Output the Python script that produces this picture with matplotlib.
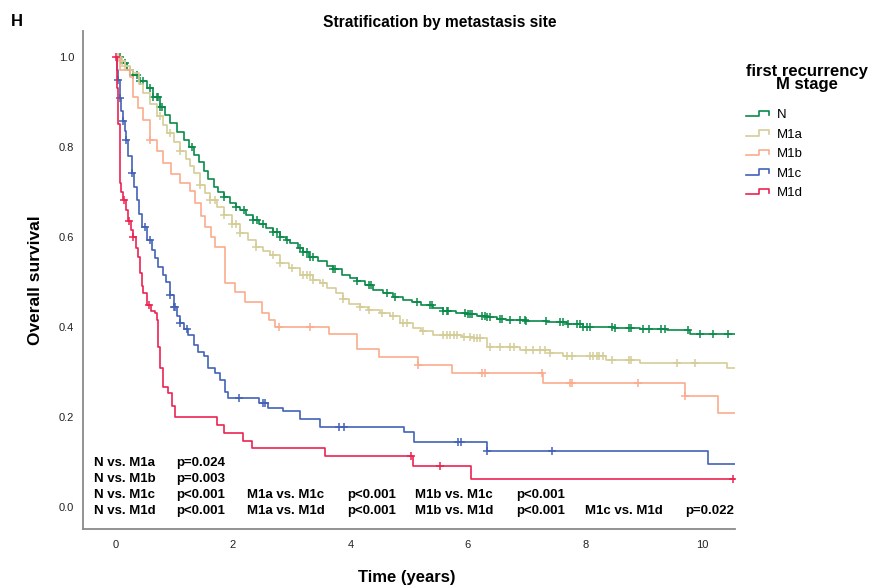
import numpy as np
import matplotlib
matplotlib.use("Agg")
import matplotlib.pyplot as plt
from matplotlib.lines import Line2D
from matplotlib.legend_handler import HandlerBase

plt.rcParams['font.family'] = ['Liberation Sans', 'DejaVu Sans']

# Kaplan-Meier step data (time in years, survival)
n_t = [0, 0.1, 0.2, 0.3, 0.4, 0.53, 0.64, 0.76, 0.85, 0.93, 1.05, 1.16, 1.25, 1.33, 1.42, 1.5,
       1.58, 1.67, 1.75, 1.84, 1.95, 2.05, 2.12, 2.22, 2.35, 2.45, 2.57, 2.69, 2.8, 2.9, 2.97,
       3.1, 3.2, 3.3, 3.45, 3.6, 3.71, 3.85, 4.0, 4.11, 4.25, 4.39, 4.55, 4.73, 4.9, 5.05, 5.2,
       5.4, 5.58, 5.8, 5.98, 6.15, 6.32, 6.5, 6.66, 7.0, 7.35, 7.69, 7.97, 8.5, 8.94, 9.39,
       9.79, 10.55]
n_s = [1.0, 0.985, 0.97, 0.96, 0.945, 0.93, 0.91, 0.889, 0.87, 0.852, 0.833, 0.815, 0.8,
       0.782, 0.765, 0.745, 0.728, 0.711, 0.7, 0.689, 0.675, 0.665, 0.66, 0.648, 0.637, 0.628,
       0.62, 0.611, 0.6, 0.592, 0.586, 0.575, 0.565, 0.556, 0.545, 0.535, 0.528, 0.516, 0.508,
       0.502, 0.492, 0.482, 0.474, 0.467, 0.46, 0.455, 0.449, 0.442, 0.434, 0.431, 0.428,
       0.425, 0.422, 0.418, 0.415, 0.412, 0.41, 0.407, 0.4, 0.398, 0.396, 0.392, 0.384, 0.384]
n_cens = [0.08, 0.16, 0.25, 0.30, 0.36, 0.42, 0.47, 0.59, 0.64, 0.70, 0.73, 0.76, 0.79, 1.3,
          1.84, 2.06, 2.18, 2.35, 2.41, 2.52, 2.69, 2.75, 2.8, 2.92, 3.14, 3.2, 3.26, 3.31,
          3.37, 3.71, 3.74, 4.11, 4.31, 4.36, 4.62, 4.76, 5.13, 5.36, 5.39, 5.58, 5.64, 5.67,
          5.95, 6.01, 6.04, 6.07, 6.24, 6.29, 6.32, 6.38, 6.55, 6.58, 6.72, 6.89, 6.98, 7.0,
          7.34, 7.57, 7.63, 7.71, 7.86, 7.91, 7.97, 8.03, 8.08, 8.45, 8.51, 8.74, 8.79, 8.99,
          9.08, 9.3, 9.36, 9.76, 9.96, 10.18, 10.44]

m1a_t = [0, 0.08, 0.16, 0.25, 0.3, 0.4, 0.47, 0.58, 0.7, 0.8, 0.87, 1.0, 1.1, 1.2, 1.27, 1.33,
         1.44, 1.52, 1.61, 1.72, 1.84, 1.98, 2.12, 2.25, 2.4, 2.52, 2.63, 2.8, 2.95, 3.14, 3.37,
         3.48, 3.6, 3.75, 3.88, 3.97, 4.17, 4.3, 4.51, 4.68, 4.85, 5.07, 5.2, 5.41, 5.9, 6.1,
         6.32, 6.89, 7.4, 7.63, 8.35, 8.94, 10.41, 10.55]
m1a_s = [1.0, 0.99, 0.98, 0.97, 0.963, 0.94, 0.919, 0.895, 0.867, 0.848, 0.83, 0.81, 0.79,
         0.772, 0.756, 0.741, 0.714, 0.698, 0.682, 0.665, 0.648, 0.628, 0.608, 0.593, 0.578,
         0.568, 0.56, 0.541, 0.53, 0.514, 0.504, 0.497, 0.486, 0.475, 0.462, 0.45, 0.443,
         0.437, 0.43, 0.423, 0.408, 0.397, 0.39, 0.382, 0.378, 0.375, 0.356, 0.349, 0.342,
         0.334, 0.327, 0.32, 0.308, 0.308]
m1a_cens = [0.11, 0.16, 0.25, 0.76, 0.93, 1.1, 1.44, 1.61, 1.7, 1.84, 1.98, 2.06, 2.12, 2.4,
            2.69, 2.8, 3.0, 3.2, 3.26, 3.31, 3.37, 3.54, 3.88, 4.17, 4.31, 4.54, 4.73, 4.9,
            4.96, 5.24, 5.58, 5.64, 5.7, 5.76, 5.81, 5.93, 6.04, 6.1, 6.15, 6.21, 6.38, 6.55,
            6.72, 6.78, 7.0, 7.12, 7.23, 7.32, 7.4, 7.69, 7.77, 8.08, 8.14, 8.2, 8.23, 8.31,
            8.45, 8.74, 8.79, 9.56, 9.87]

m1b_t = [0, 0.08, 0.25, 0.3, 0.38, 0.47, 0.59, 0.7, 0.81, 0.95, 1.1, 1.27, 1.35, 1.45, 1.52,
         1.62, 1.70, 1.87, 2.04, 2.21, 2.49, 2.62, 2.72, 3.64, 4.11, 4.48, 5.16, 5.74, 7.28,
         9.70, 10.27, 10.55]
m1b_s = [1.0, 0.97, 0.955, 0.911, 0.885, 0.86, 0.815, 0.79, 0.763, 0.74, 0.719, 0.702, 0.674,
         0.645, 0.622, 0.6, 0.578, 0.497, 0.478, 0.456, 0.43, 0.415, 0.4, 0.384, 0.351, 0.332,
         0.315, 0.297, 0.275, 0.246, 0.209, 0.209]
m1b_cens = [0.05, 0.59, 2.78, 3.31, 5.16, 6.24, 6.29, 7.27, 7.74, 7.77, 8.9, 9.7]

m1c_t = [0, 0.03, 0.05, 0.08, 0.1, 0.13, 0.16, 0.18, 0.22, 0.28, 0.32, 0.36, 0.4, 0.45, 0.53,
         0.62, 0.68, 0.73, 0.8, 0.86, 0.93, 0.99, 1.05, 1.1, 1.17, 1.24, 1.33, 1.41, 1.5, 1.58,
         1.69, 1.78, 1.87, 1.92, 2.45, 2.59, 2.86, 3.14, 3.48, 4.91, 5.09, 6.32, 10.09, 10.55]
m1c_s = [1.0, 0.97, 0.948, 0.908, 0.88, 0.856, 0.835, 0.815, 0.78, 0.741, 0.71, 0.682, 0.65,
         0.622, 0.593, 0.571, 0.552, 0.533, 0.515, 0.5, 0.47, 0.445, 0.425, 0.408, 0.395,
         0.382, 0.36, 0.345, 0.334, 0.308, 0.297, 0.282, 0.256, 0.241, 0.23, 0.219, 0.212,
         0.195, 0.178, 0.166, 0.145, 0.125, 0.095, 0.095]
m1c_cens = [0.05, 0.08, 0.13, 0.18, 0.28, 0.5, 0.59, 0.93, 1.0, 1.02, 1.1, 1.21, 2.11, 2.52,
            2.55, 3.81, 3.89, 5.83, 5.88, 6.33, 7.43]

m1d_t = [0, 0.03, 0.05, 0.07, 0.08, 0.1, 0.13, 0.17, 0.22, 0.26, 0.3, 0.34, 0.38, 0.42, 0.45,
         0.47, 0.53, 0.6, 0.67, 0.70, 0.73, 0.76, 0.81, 0.9, 0.96, 1.01, 1.72, 1.85, 2.17,
         2.32, 3.57, 5.07, 6.06, 10.55]
m1d_s = [1.0, 0.93, 0.85, 0.78, 0.72, 0.70, 0.682, 0.66, 0.634, 0.615, 0.6, 0.575, 0.556,
         0.52, 0.49, 0.475, 0.449, 0.435, 0.43, 0.415, 0.356, 0.308, 0.267, 0.252, 0.223, 0.2,
         0.182, 0.164, 0.147, 0.13, 0.112, 0.09, 0.062, 0.062]
m1d_cens = [0.0, 0.14, 0.23, 0.3, 0.57, 5.04, 5.53, 10.52]

groups = ['N', 'M1a', 'M1b', 'M1c', 'M1d']
colors = ['#0b8a4a', '#d5cd98', '#fbab8e', '#4262b6', '#eb2452']

# pairwise log-rank results
pvals = [
    [('N vs. M1a', 'p=0.024')],
    [('N vs. M1b', 'p=0.003')],
    [('N vs. M1c', 'p<0.001'), ('M1a vs. M1c', 'p<0.001'), ('M1b vs. M1c', 'p<0.001')],
    [('N vs. M1d', 'p<0.001'), ('M1a vs. M1d', 'p<0.001'), ('M1b vs. M1d', 'p<0.001'),
     ('M1c vs. M1d', 'p=0.022')],
]


class StepHandler(HandlerBase):
    # little step-shaped legend key like SPSS
    def create_artists(self, legend, orig_handle, xdescent, ydescent, width, height,
                       fontsize, trans):
        x0, y0 = -xdescent, -ydescent
        xs = [x0, x0 + 0.55 * width, x0 + 0.55 * width, x0 + width, x0 + width]
        ys = [y0 + 0.2 * height, y0 + 0.2 * height, y0 + 0.8 * height, y0 + 0.8 * height,
              y0 + 0.4 * height]
        line = Line2D(xs, ys, color=orig_handle.get_color(), lw=orig_handle.get_linewidth())
        line.set_transform(trans)
        return [line]


fig = plt.figure(figsize=(8.73, 5.86), dpi=100)
ax = fig.add_axes([0.0947, 0.0973, 0.747, 0.85])

series = [(n_t, n_s, n_cens), (m1a_t, m1a_s, m1a_cens), (m1b_t, m1b_s, m1b_cens),
          (m1c_t, m1c_s, m1c_cens), (m1d_t, m1d_s, m1d_cens)]
handles = []
for (t, s, cens), name, col in zip(series, groups, colors):
    t = np.array(t)
    s = np.array(s)
    h, = ax.plot(t, s, drawstyle='steps-post', color=col, lw=1.2, label=name)
    handles.append(h)
    c = np.array(cens)
    idx = np.searchsorted(t, c, side='right') - 1
    ax.plot(c, s[idx], ls='none', marker='+', ms=6, mew=1.1, color=col)

ax.set_xlim(-0.56, 10.55)
ax.set_ylim(-0.049, 1.057)
ax.set_xticks([0, 2, 4, 6, 8, 10])
ax.set_yticks([0.0, 0.2, 0.4, 0.6, 0.8, 1.0])
ax.set_yticklabels(['0.0', '0.2', '0.4', '0.6', '0.8', '1.0'])
ax.tick_params(length=0, labelsize=8, labelcolor='#222222')
ax.tick_params(axis='x', pad=8)
ax.tick_params(axis='y', pad=6)
for side in ['top', 'right']:
    ax.spines[side].set_visible(False)
for side in ['left', 'bottom']:
    ax.spines[side].set_color('#8a8a8a')
    ax.spines[side].set_linewidth(1.3)

ax.set_xlabel('Time (years)', fontsize=12, fontweight='bold')
ax.set_ylabel('Overall survival', fontsize=12.5, fontweight='bold')
ax.xaxis.set_label_coords(0.497, -0.082)
ax.yaxis.set_label_coords(-0.061, 0.5)

# p-value table in data coordinates
row_y = [0.098, 0.062, 0.027, -0.008]
col_x = [(-0.37, 1.03), (2.235, 3.94), (5.10, 6.82), (8.0, 9.70)]
for row, yy in zip(pvals, row_y):
    for (lab, p), (xl, xp) in zip(row, col_x):
        ax.text(xl, yy, lab, fontsize=9.5, fontweight='bold', va='center', ha='left')
        ax.text(xp, yy, p, fontsize=9.5, fontweight='bold', va='center', ha='left')

fig.text(440 / 873, 1 - 22 / 586, 'Stratification by metastasis site', fontsize=11.2,
         fontweight='bold', ha='center', va='center')
fig.text(17 / 873, 1 - 22 / 586, 'H', fontsize=12, fontweight='bold', ha='center', va='center')

leg = ax.legend(handles, groups, loc='upper left', bbox_to_anchor=(739 / 873, 1 - 57 / 586),
                bbox_transform=fig.transFigure, frameon=False, borderpad=0, alignment='left',
                title='first recurrency\nM stage',
                title_fontproperties={'weight': 'bold', 'size': 12},
                fontsize=9.5, handlelength=1.8, handletextpad=0.6, labelspacing=0.55,
                handler_map={Line2D: StepHandler()})
leg.get_title().set_multialignment('center')
leg.get_title().set_linespacing(0.9)
leg._legend_box.sep = 12  # more room between title and entries

fig.savefig('out.png', dpi=100)
